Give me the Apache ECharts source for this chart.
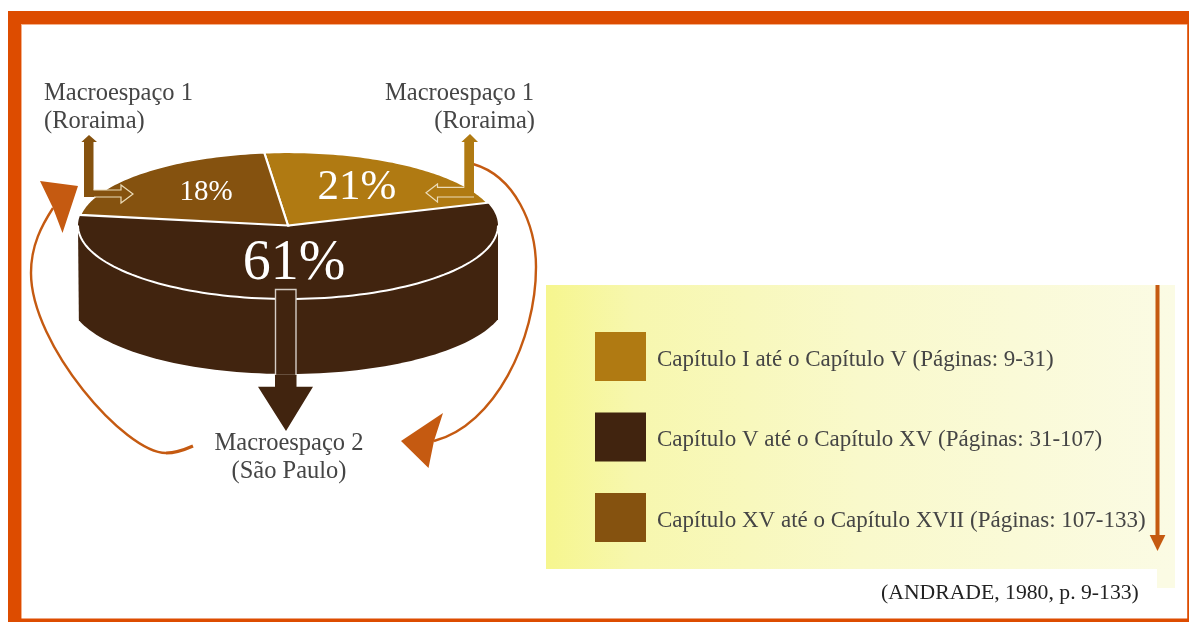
<!DOCTYPE html>
<html>
<head>
<meta charset="utf-8">
<style>html,body{margin:0;padding:0;background:#fff}#chart{width:1189px;height:622px}</style>
<script src="https://cdn.jsdelivr.net/npm/echarts@6/dist/echarts.min.js"></script>
</head>
<body>
<div id="chart"></div>
<script>
const categories = [
  'Capítulo I até o Capítulo V (Páginas: 9-31)',
  'Capítulo V até o Capítulo XV (Páginas: 31-107)',
  'Capítulo XV até o Capítulo XVII (Páginas: 107-133)'
];
const shares = [21, 61, 18];
const colors = ['#b07a12', '#41240f', '#85520f'];
const labelPos = [[357, 188, 43], [294, 264, 56], [206, 192, 29]];

// pie disc, in page pixels
const CX = 288, CY = 225.5, RX = 210, RY = 73.5;
// the underside is a wider ellipse cut at the disc's width, which gives the hard corners
const BOTTOM_CY = 299, BOTTOM_RX = 218, BOTTOM_RY = 75, BOTTOM_CUT = 74.4;
const START = 3.25; // degrees clockwise from north, where the first slice starts
// the original pie is drawn with its back wedges stretched, this bends the angles the same way
const WARP = 10.9, TURN = -11;

const SERIF = '"Liberation Serif", serif';
const ORANGE = '#c55a11';
const FRAME = '#dd4c00';

function onTop(a) {
  const r = a * Math.PI / 180;
  const b = r + (WARP * Math.sin(2 * r) + TURN) * Math.PI / 180;
  return [CX + RX * Math.sin(b), CY - RY * Math.cos(b)];
}

function slicePoints(from, to) {
  const pts = [[CX, CY]];
  for (let a = from; a < to; a += 1) pts.push(onTop(a));
  pts.push(onTop(to));
  return pts;
}

// slices run clockwise from START: first, then the big one, then the last
function sliceRange(i) {
  const total = shares.reduce((s, v) => s + v, 0);
  let from = START;
  for (let k = 0; k < i; k++) from += shares[k] / total * 360;
  return [from, from + shares[i] / total * 360];
}

function bodyPoints() {
  const pts = [];
  for (let a = 180 - BOTTOM_CUT; a <= 180 + BOTTOM_CUT; a += 2) {
    const r = a * Math.PI / 180;
    pts.push([CX + BOTTOM_RX * Math.sin(r), BOTTOM_CY - BOTTOM_RY * Math.cos(r)]);
  }
  return pts.concat([[CX - RX, CY], [CX + RX, CY]]);
}

function frontEdge() {
  const pts = [];
  for (let a = 90; a <= 270; a += 2) {
    const r = a * Math.PI / 180;
    pts.push([CX + RX * Math.sin(r), CY - RY * Math.cos(r)]);
  }
  return pts;
}

function renderSlice(i) {
  return function (params, api) {
    const [from, to] = sliceRange(i);
    const color = api.visual('color');
    const children = [];
    if (i === 1) {
      children.push({ type: 'polygon', shape: { points: bodyPoints() }, style: { fill: color } });
      children.push({ type: 'polygon', shape: { points: slicePoints(from, to) }, style: { fill: color } });
      children.push({ type: 'polyline', shape: { points: frontEdge() }, style: { fill: 'none', stroke: '#fff', lineWidth: 2 } });
    } else {
      children.push({ type: 'polygon', z2: 2, shape: { points: slicePoints(from, to) }, style: { fill: color, stroke: '#fff', lineWidth: 2.2, lineJoin: 'miter' } });
    }
    children.push({
      type: 'text', z2: 3,
      style: {
        x: labelPos[i][0], y: labelPos[i][1], text: api.value(0) + '%',
        fill: '#fff', font: labelPos[i][2] + 'px ' + SERIF, align: 'center', verticalAlign: 'middle'
      }
    });
    return { type: 'group', children: children };
  };
}

const series = categories.map((name, i) => ({
  type: 'custom',
  name: name,
  coordinateSystem: 'none',
  silent: true,
  z: i === 1 ? 2 : 3,
  itemStyle: { color: colors[i] },
  data: [[shares[i]]],
  renderItem: renderSlice(i)
}));

function poly(points, fill) {
  return { type: 'polygon', z: 5, silent: true, shape: { points: points }, style: { fill: fill } };
}
function rect(x, y, width, height, fill, z) {
  return { type: 'rect', z: z || 1, silent: true, shape: { x, y, width, height }, style: { fill: fill } };
}
function bez(x1, y1, cpx1, cpy1, cpx2, cpy2, x2, y2, w) {
  return {
    type: 'bezierCurve', z: 5, silent: true,
    shape: { x1, y1, cpx1, cpy1, cpx2, cpy2, x2, y2 },
    style: { fill: 'none', stroke: ORANGE, lineWidth: w || 2.4 }
  };
}
function txt(x, y, text, align, size, fill) {
  return {
    type: 'text', z: 6, silent: true,
    style: { x, y, text, align, verticalAlign: 'middle', font: size + 'px ' + SERIF, fill: fill || '#454545' }
  };
}

const PALE = '#ecdcb8';
const annotations = [
  // frame
  rect(21, 24, 1166, 1, '#f4b08a'),
  rect(21, 24, 1, 595, '#f4b08a'),
  rect(8, 11, 1181, 13, FRAME),
  rect(8, 11, 13, 611, FRAME),
  rect(8, 618.5, 1181, 3.5, FRAME),
  rect(1187.2, 11, 1.8, 611, FRAME),
  // legend panel
  rect(1157, 285, 18, 303, '#fbfbe4'),
  rect(546, 285, 629, 284, new echarts.graphic.LinearGradient(0, 0, 1, 0, [
    { offset: 0, color: '#f6f68e' },
    { offset: 0.14, color: '#f7f7ae' },
    { offset: 0.5, color: '#f9f9cb' },
    { offset: 1, color: '#fbfbe4' }
  ])),
  // arrow down the legend
  rect(1155.5, 285, 4, 252, ORANGE, 2),
  poly([[1149.7, 535], [1165.4, 535], [1157.5, 551]], ORANGE),
  // cycle arcs
  bez(473, 164, 515, 176, 536, 225, 536, 267),
  bez(536, 267, 536, 340, 495, 425, 434, 441),
  poly([[401, 441], [443, 413], [434, 441], [428.5, 468]], ORANGE),
  bez(193, 446, 184, 450, 175, 453, 166, 453, 3.2),
  bez(166, 453, 125, 453, 31, 345, 31, 273),
  bez(31, 273, 31, 245, 42, 225, 53, 208),
  poly([[40, 181], [78, 186], [62.5, 233], [53, 208]], ORANGE),
  // left L arrow
  poly([[84, 197], [84, 142], [81.4, 142], [89, 135], [97, 142], [93.5, 142], [93.5, 190], [121, 190], [121, 185], [133, 194], [121, 203], [121, 197]], '#85520f'),
  { type: 'polyline', z: 6, silent: true, shape: { points: [[93.5, 190], [121, 190], [121, 185], [133, 194], [121, 203], [121, 197], [94, 197]] }, style: { fill: 'none', stroke: PALE, lineWidth: 1.2 } },
  // right L arrow
  poly([[474, 197], [474, 142], [478, 142], [470, 134], [461.4, 142], [464.3, 142], [464.3, 187.3], [437.5, 187.3], [437.5, 184], [426, 192.7], [437.5, 202], [437.5, 197]], '#b07a12'),
  { type: 'polyline', z: 6, silent: true, shape: { points: [[464.3, 187.3], [437.5, 187.3], [437.5, 184], [426, 192.7], [437.5, 202], [437.5, 197], [474, 197]] }, style: { fill: 'none', stroke: PALE, lineWidth: 1.2 } },
  // centre arrow
  { type: 'rect', z: 5, silent: true, shape: { x: 275.5, y: 289.5, width: 20.5, height: 86 }, style: { fill: '#41240f', stroke: '#d5cdc5', lineWidth: 1.4 } },
  poly([[275, 375], [296.5, 375], [296.5, 386.7], [313, 386.7], [286, 431], [258, 386.7], [275, 386.7]], '#41240f'),
  // place names
  txt(44, 94, 'Macroespaço 1', 'left', 24.5),
  txt(44, 122, '(Roraima)', 'left', 24.5),
  txt(534, 94, 'Macroespaço 1', 'right', 24.5),
  txt(535, 122, '(Roraima)', 'right', 24.5),
  txt(289, 444, 'Macroespaço 2', 'center', 24.5),
  txt(289, 472, '(São Paulo)', 'center', 24.5),
  // source
  txt(881, 593, '(ANDRADE, 1980, p. 9-133)', 'left', 21.7, '#222')
];

const chart = echarts.init(document.getElementById('chart'));
chart.setOption({
  backgroundColor: '#fff',
  animation: false,
  legend: {
    data: categories,
    orient: 'vertical',
    left: 595, top: 332,
    padding: 0,
    icon: 'rect',
    itemWidth: 51, itemHeight: 49, itemGap: 31.5,
    selectedMode: false,
    formatter: '{t|{name}}',
    textStyle: {
      fontFamily: SERIF, fontSize: 23, color: '#454545',
      rich: { t: { fontFamily: SERIF, fontSize: 23, color: '#454545', padding: [6, 0, 0, 6] } }
    }
  },
  graphic: { elements: annotations },
  series: series
});
</script>
</body>
</html>
